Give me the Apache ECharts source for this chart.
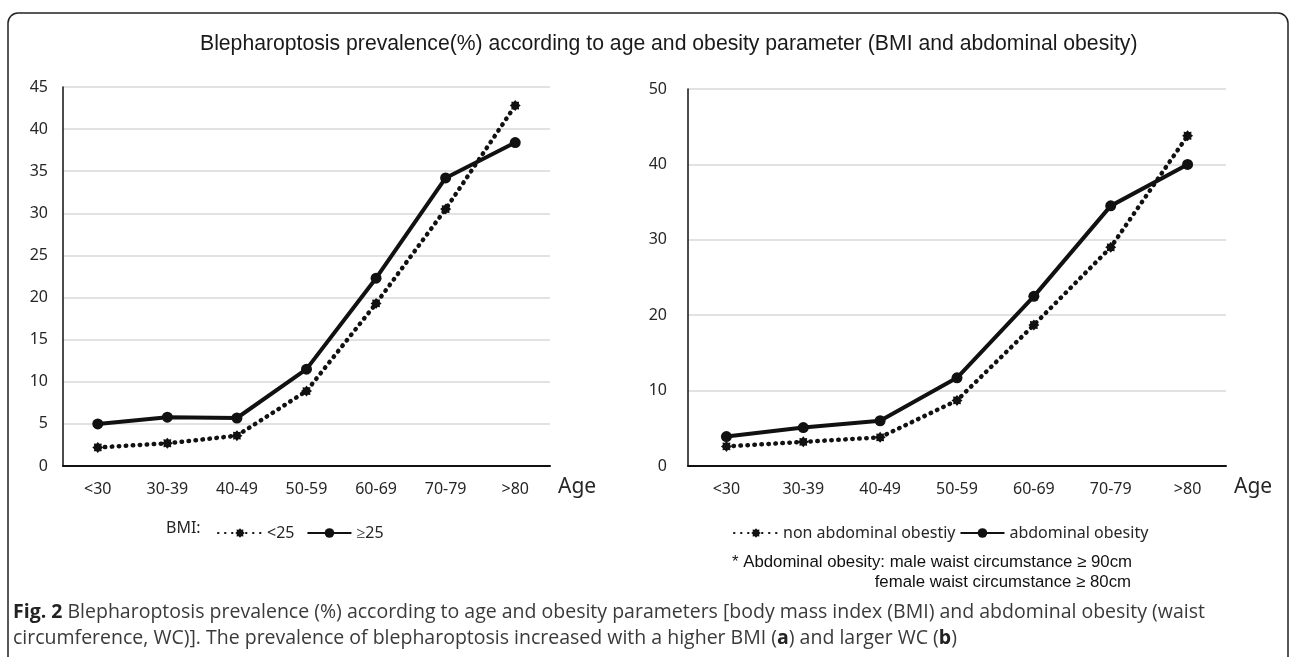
<!DOCTYPE html>
<html>
<head>
<meta charset="utf-8">
<script src="https://cdn.jsdelivr.net/npm/echarts@6/dist/echarts.min.js"></script>
<style>
html,body{margin:0;padding:0;background:#fff;}
#chart{width:1292px;height:657px;}
</style>
</head>
<body>
<div id="chart"></div>
<script>
// ---- data ----
const categories = ['<30', '30-39', '40-49', '50-59', '60-69', '70-79', '>80'];
const bmiUnder25 = [2.2, 2.7, 3.6, 8.9, 19.3, 30.5, 42.8];
const bmiOver25 = [5.0, 5.8, 5.7, 11.5, 22.3, 34.2, 38.4];
const nonAbdominal = [2.6, 3.2, 3.8, 8.7, 18.7, 29.0, 43.8];
const abdominal = [3.9, 5.1, 6.0, 11.7, 22.5, 34.5, 40.0];
const seriesNames = ['<25', '≥25', 'non abdominal obestiy', 'abdominal obesity'];
const leftAxis = {min: 0, max: 45, interval: 5};
const rightAxis = {min: 0, max: 50, interval: 10};
const titleText = 'Blepharoptosis prevalence(%) according to age and obesity parameter (BMI and abdominal obesity)';
const noteLines = ['* Abdominal obesity: male waist circumstance ≥ 90cm', 'female waist circumstance ≥ 80cm'];
const captionLine1 = 'Blepharoptosis prevalence (%) according to age and obesity parameters [body mass index (BMI) and abdominal obesity (waist';
const captionLine2a = 'circumference, WC)]. The prevalence of blepharoptosis increased with a higher BMI (';
const captionLine2b = ') and larger WC (';

// ---- styles ----
const starPath = 'path://M20,10 L16.65,12.76 L17.07,17.07 L12.76,16.65 L10,20 L7.24,16.65 L2.93,17.07 L3.35,12.76 L0,10 L3.35,7.24 L2.93,2.93 L7.24,3.35 L10,0 L12.76,3.35 L17.07,2.93 L16.65,7.24 Z';
const axisFont = 'Noto Sans';
const labelColor = '#262626';

function xAxisFor(gridIndex) {
  return {
    type: 'category', gridIndex: gridIndex, data: categories, boundaryGap: true,
    axisLine: {lineStyle: {color: '#111', width: 2}},
    axisTick: {show: false},
    axisLabel: {color: labelColor, fontFamily: axisFont, fontSize: 16, margin: 15},
    name: 'Age', nameLocation: 'end', nameGap: 8,
    nameTextStyle: {color: labelColor, fontFamily: axisFont, fontSize: 21, verticalAlign: 'top', padding: [11, 0, 0, 0]}
  };
}
function yAxisFor(gridIndex, cfg, margin) {
  return {
    type: 'value', gridIndex: gridIndex, min: cfg.min, max: cfg.max, interval: cfg.interval,
    axisLine: {show: true, lineStyle: {color: '#111', width: 1.5}},
    axisTick: {show: false},
    splitLine: {lineStyle: {color: '#d9d9d9', width: 1.5}},
    axisLabel: {color: labelColor, fontFamily: axisFont, fontSize: 16, margin: margin}
  };
}
function dottedSeries(name, data, idx) {
  return {
    type: 'line', name: name, data: data, xAxisIndex: idx, yAxisIndex: idx,
    symbol: starPath, symbolSize: 11,
    itemStyle: {color: '#111'},
    lineStyle: {color: '#111', width: 4.5, type: [0.5, 6.5], cap: 'round'},
    z: 3
  };
}
function solidSeries(name, data, idx) {
  return {
    type: 'line', name: name, data: data, xAxisIndex: idx, yAxisIndex: idx,
    symbol: 'circle', symbolSize: 11,
    itemStyle: {color: '#111'},
    lineStyle: {color: '#111', width: 4},
    z: 4
  };
}

const chart = echarts.init(document.getElementById('chart'), null, {renderer: 'canvas'});
chart.setOption({
  animation: false,
  backgroundColor: '#fff',
  title: {
    text: titleText, left: 195, top: 29,
    textStyle: {fontFamily: 'Liberation Sans', fontSize: 21.2, fontWeight: 'normal', color: '#1a1a1a'}
  },
  grid: [
    {left: 63, top: 87, width: 487, height: 379},
    {left: 688, top: 89, width: 538, height: 377}
  ],
  xAxis: [xAxisFor(0), xAxisFor(1)],
  yAxis: [yAxisFor(0, leftAxis, 15), yAxisFor(1, rightAxis, 21)],
  legend: [
    {
      data: [seriesNames[0], seriesNames[1]], left: 212, top: 520,
      itemWidth: 44, itemHeight: 12, itemGap: 12,
      textStyle: {fontFamily: axisFont, fontSize: 16, color: labelColor}
    },
    {
      data: [seriesNames[2], seriesNames[3]], left: 728, top: 520,
      itemWidth: 44, itemHeight: 12, itemGap: 4,
      textStyle: {fontFamily: axisFont, fontSize: 16, color: labelColor}
    }
  ],
  series: [
    dottedSeries(seriesNames[0], bmiUnder25, 0),
    solidSeries(seriesNames[1], bmiOver25, 0),
    dottedSeries(seriesNames[2], nonAbdominal, 1),
    solidSeries(seriesNames[3], abdominal, 1)
  ],
  graphic: [
    {
      type: 'rect', silent: true, z: -1,
      shape: {x: 8, y: 13, width: 1280, height: 720, r: 10},
      style: {fill: 'none', stroke: '#222', lineWidth: 1.5}
    },
    {
      type: 'text', left: 166, top: 520,
      style: {text: 'BMI:', font: '16px "Noto Sans"', fill: labelColor}
    },
    {
      type: 'text', left: 732, top: 554,
      style: {text: noteLines[0], font: '16.8px "Liberation Sans"', fill: '#111'}
    },
    {
      type: 'text', right: 1292 - 1131, top: 574,
      style: {text: noteLines[1], font: '16.8px "Liberation Sans"', fill: '#111', align: 'right'}
    },
    {
      type: 'text', left: 13, top: 602,
      style: {
        text: '{b|Fig. 2} ' + captionLine1,
        font: '19.5px "Open Sans"', fill: '#3a3a3a',
        rich: {b: {fontWeight: 'bold', fontFamily: 'Open Sans', fontSize: 19.5, fill: '#222'}}
      }
    },
    {
      type: 'text', left: 13, top: 628,
      style: {
        text: captionLine2a + '{b|a}' + captionLine2b + '{b|b}' + ')',
        font: '19.5px "Open Sans"', fill: '#3a3a3a',
        rich: {b: {fontWeight: 'bold', fontFamily: 'Open Sans', fontSize: 19.5, fill: '#222'}}
      }
    }
  ]
});
</script>
</body>
</html>
